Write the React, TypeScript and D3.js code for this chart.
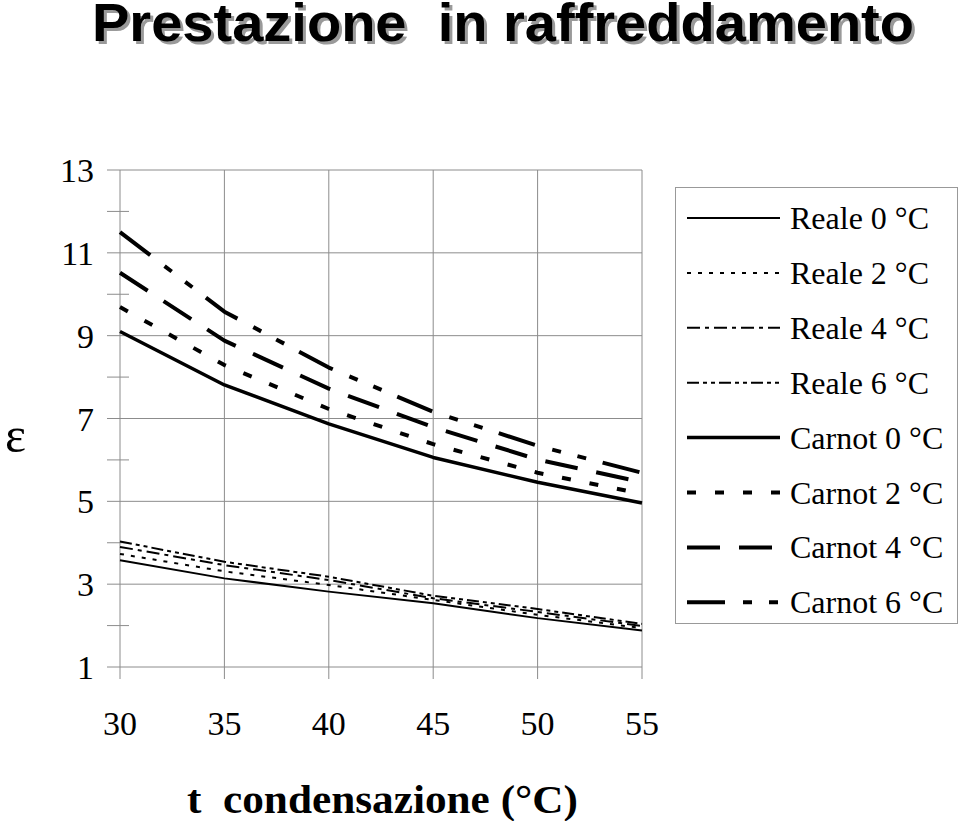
import React from "react";
import * as d3 from "d3";

const xValues = [30, 35, 40, 45, 50, 55];
const reale0 = [3.58, 3.14, 2.82, 2.54, 2.18, 1.88];
const reale2 = [3.73, 3.31, 2.98, 2.62, 2.26, 1.94];
const reale4 = [3.9, 3.46, 3.1, 2.66, 2.33, 1.99];
const reale6 = [4.03, 3.54, 3.18, 2.72, 2.4, 2.04];
const carnot0 = [9.1, 7.81, 6.87, 6.06, 5.46, 4.96];
const carnot2 = [9.69, 8.29, 7.23, 6.38, 5.69, 5.18];
const carnot4 = [10.52, 8.88, 7.72, 6.79, 6.01, 5.46];
const carnot6 = [11.5, 9.58, 8.23, 7.16, 6.34, 5.69];

const seriesNames = [
  "Reale 0 \u00b0C",
  "Reale 2 \u00b0C",
  "Reale 4 \u00b0C",
  "Reale 6 \u00b0C",
  "Carnot 0 \u00b0C",
  "Carnot 2 \u00b0C",
  "Carnot 4 \u00b0C",
  "Carnot 6 \u00b0C",
];
const seriesValues = [reale0, reale2, reale4, reale6, carnot0, carnot2, carnot4, carnot6];
const seriesDash = ["", "4,7", "13,5,4,5", "12,4,4,4,4,4", "", "9,19", "33,19", "38,18,9,17,9,17"];
const seriesWidth = [2, 2, 2, 2, 3.5, 4, 4, 4];

const yTicks = [1, 3, 5, 7, 9, 11, 13];
const yMinorTicks = [2, 4, 6, 8, 10, 12];
const xTicks = [30, 35, 40, 45, 50, 55];

const title = "Prestazione  in raffreddamento";
const xTitle = "t  condensazione (\u00b0C)";
const yTitle = "\u03b5";

export default function App() {
  const left = 120, right = 642, top = 170, bottom = 667;
  const x = d3.scaleLinear().domain([30, 55]).range([left, right]);
  const y = d3.scaleLinear().domain([1, 13]).range([bottom, top]);
  const line = d3
    .line<number>()
    .x((_, i) => x(xValues[i]))
    .y((d) => y(d));
  const grid = "#8c8c8c";
  const serif = "'Liberation Serif', 'Times New Roman', serif";
  const pre = { whiteSpace: "pre" as const };

  return (
    <svg
      width={960}
      height={821}
      style={{ position: "absolute", left: 0, top: 0, background: "#fff" }}
    >
      <rect x={0} y={0} width={960} height={821} fill="#fff" />
      {/* title with shadow */}
      <text
        x={95}
        y={44}
        fontFamily="'Liberation Sans Narrow', 'Liberation Sans', Arial, sans-serif"
        fontWeight="bold"
        fontSize={54}
        fill="#9a9a9a"
        textLength={822}
        lengthAdjust="spacingAndGlyphs"
        style={pre}
      >
        {title}
      </text>
      <text
        x={92}
        y={41}
        fontFamily="'Liberation Sans Narrow', 'Liberation Sans', Arial, sans-serif"
        fontWeight="bold"
        fontSize={54}
        fill="#000"
        textLength={822}
        lengthAdjust="spacingAndGlyphs"
        style={pre}
      >
        {title}
      </text>

      {/* grid */}
      {yTicks.map((t) => (
        <line key={"gy" + t} x1={107} x2={right} y1={y(t)} y2={y(t)} stroke={grid} strokeWidth={1} />
      ))}
      {yMinorTicks.map((t) => (
        <line key={"my" + t} x1={107} x2={129} y1={y(t)} y2={y(t)} stroke={grid} strokeWidth={1} />
      ))}
      {xTicks.map((t) => (
        <line key={"gx" + t} x1={x(t)} x2={x(t)} y1={top} y2={bottom + 12} stroke={grid} strokeWidth={1} />
      ))}

      {/* y labels */}
      {yTicks.map((t) => (
        <text
          key={"ly" + t}
          x={94}
          y={y(t) + 12}
          textAnchor="end"
          fontFamily={serif}
          fontSize={34}
        >
          {t}
        </text>
      ))}
      {/* x labels */}
      {xTicks.map((t) => (
        <text
          key={"lx" + t}
          x={x(t)}
          y={735}
          textAnchor="middle"
          fontFamily={serif}
          fontSize={34}
        >
          {t}
        </text>
      ))}

      {/* series */}
      {seriesValues.map((vals, i) => (
        <path
          key={"s" + i}
          d={line(vals) || ""}
          fill="none"
          stroke="#000"
          strokeWidth={seriesWidth[i]}
          strokeDasharray={seriesDash[i] || undefined}
          strokeLinejoin="round"
        />
      ))}

      {/* axis titles */}
      <text x={5} y={452} fontFamily={serif} fontSize={50}>
        {yTitle}
      </text>
      <text
        x={187}
        y={813}
        fontFamily={serif}
        fontWeight="bold"
        fontSize={40}
        textLength={391}
        lengthAdjust="spacingAndGlyphs"
        style={pre}
      >
        {xTitle}
      </text>

      {/* legend */}
      <rect x={675.5} y={187.5} width={282} height={436} fill="#fff" stroke="#999" strokeWidth={1} />
      {seriesNames.map((name, i) => {
        const cy = 218 + i * 54.9;
        return (
          <g key={"lg" + i}>
            <line
              x1={687}
              x2={780}
              y1={cy}
              y2={cy}
              stroke="#000"
              strokeWidth={seriesWidth[i]}
              strokeDasharray={seriesDash[i] || undefined}
            />
            <text x={790} y={cy + 11} fontFamily={serif} fontSize={32} style={pre}>
              {name}
            </text>
          </g>
        );
      })}
    </svg>
  );
}
